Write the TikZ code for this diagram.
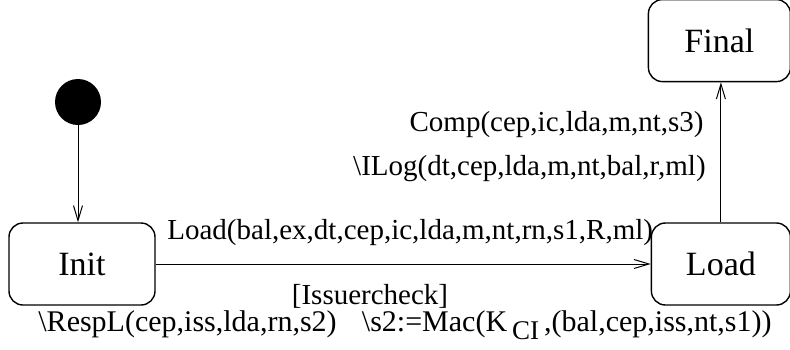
\documentclass[tikz,border=0pt]{standalone}
\usepackage{fontspec}
\setmainfont{Liberation Serif}
\usetikzlibrary{positioning,arrows.meta}

\tikzset{
  state/.style={draw, rounded corners=7pt, line width=0.7pt, minimum width=73pt,
    minimum height=41pt, inner sep=0pt, font=\fontsize{17}{20}\selectfont},
  lbl/.style={inner sep=0pt, font=\fontsize{14.5}{17}\selectfont},
  trans/.style={-{Straight Barb[length=7.5pt,width=4.5pt]}, line width=0.5pt},
}

\begin{document}
\begin{tikzpicture}[x=0.5pt, y=-0.5pt]
  \useasboundingbox (0,0) rectangle (790,349);
  \node [circle, fill, minimum size=23pt, inner sep=0pt] (start) at (78,102) {};
  \node [state] (init) at (82,264) {Init};
  \node [state, right=247.5pt of init, minimum width=69.5pt] (load) {Load};
  \node [state, above=70pt of load.north, anchor=south, xshift=-0.75pt, minimum width=71pt] (final) {Final};
  % \node [state] (err) at (400,42) {Error};

  \node [lbl, anchor=base west] (ld) at (167,239) {Load(bal,ex,dt,cep,ic,lda,m,nt,rn,s1,R,ml)};
  \node [lbl, anchor=base] (grd) at (370,304) {[Issuercheck]};
  \node [lbl, anchor=base west, font=\fontsize{15}{17}\selectfont] (resp) at (38,331)
    {\textbackslash RespL(cep,iss,lda,rn,s2)};
  \node [lbl, anchor=base east, font=\fontsize{15}{17}\selectfont] (mac) at (772,331)
    {\textbackslash s2:=Mac(K\,\raisebox{-4pt}{\fontsize{13.5}{15}\selectfont CI}\,,(bal,cep,iss,nt,s1))};
  \node [lbl, anchor=base east] (comp) at (704,131) {Comp(cep,ic,lda,m,nt,s3)};
  \node [lbl, anchor=base east] (ilog) at (706,175) {\textbackslash ILog(dt,cep,lda,m,nt,bal,r,ml)};

  \draw [trans] (start.south) -- (start.south |- init.north);
  \draw [trans] (init) -- (load);
  \draw [trans] (load.north) -- (load.north |- final.south);
\end{tikzpicture}
\end{document}
